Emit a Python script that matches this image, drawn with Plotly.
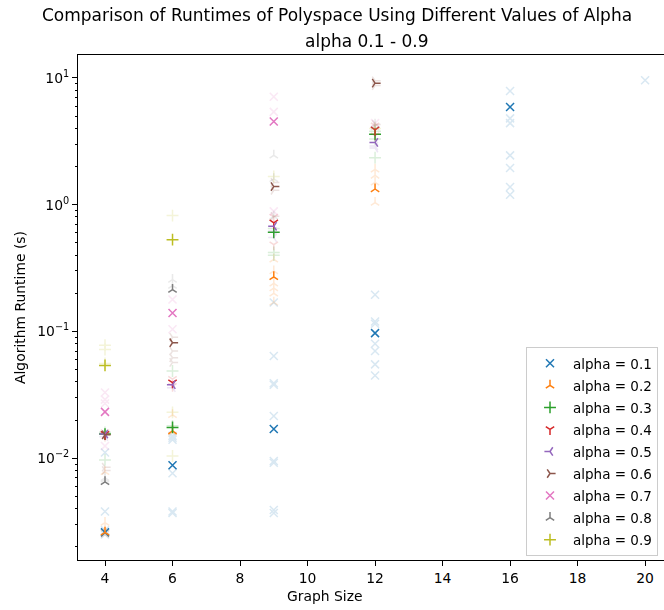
import plotly.graph_objects as go

# ---------------- data ----------------
alphas = ["0.1", "0.2", "0.3", "0.4", "0.5", "0.6", "0.7", "0.8", "0.9"]
colors = ["#1f77b4", "#ff7f0e", "#2ca02c", "#d62728", "#9467bd",
          "#8c564b", "#e377c2", "#7f7f7f", "#bcbd22"]
symbols = ["x-thin", "y-up", "cross-thin", "y-down", "y-left",
           "y-right", "x-thin", "y-up", "cross-thin"]

# solid (summary) points: graph sizes and runtimes
a01_mean_x = [4, 6, 9, 12, 16]
a01_mean_y = [0.0026, 0.0088, 0.017, 0.097, 5.9]
a02_mean_x = [4, 6, 9, 12]
a02_mean_y = [0.0026, 0.0164, 0.27, 1.33]
a03_mean_x = [4, 6, 9, 12]
a03_mean_y = [0.0155, 0.0175, 0.605, 3.6]
a04_mean_x = [4, 6, 9, 12]
a04_mean_y = [0.0155, 0.0395, 0.72, 3.9]
a05_mean_x = [4, 6, 9, 12]
a05_mean_y = [0.0155, 0.038, 0.675, 3.1]
a06_mean_x = [4, 6, 9, 12]
a06_mean_y = [0.0153, 0.0815, 1.39, 9.1]
a07_mean_x = [4, 6, 9]
a07_mean_y = [0.0232, 0.140, 4.53]
a08_mean_x = [4, 6]
a08_mean_y = [0.0065, 0.214]
a09_mean_x = [4, 6]
a09_mean_y = [0.054, 0.53]

# faint (individual run) points
a01_run_x = [4, 4, 4, 4, 4, 6, 6, 6, 6, 6, 6, 9, 9, 9, 9, 9, 9, 9, 9, 9,
             12, 12, 12, 12, 12, 12, 12, 16, 16, 16, 16, 16, 16, 16, 20]
a01_run_y = [0.0026, 0.0025, 0.0027, 0.0038, 0.0111,
             0.0145, 0.015, 0.014, 0.0076, 0.0037, 0.0038,
             0.169, 0.064, 0.039, 0.038, 0.0215, 0.0095, 0.0092, 0.0037, 0.0039,
             0.195, 0.12, 0.115, 0.08, 0.07, 0.055, 0.045,
             7.9, 4.8, 4.4, 2.45, 1.95, 1.38, 1.2, 9.6]
a02_run_x = [4, 4, 4, 4, 6, 6, 9, 9, 9, 9, 9, 9, 12, 12, 12, 12]
a02_run_y = [0.0031, 0.0025, 0.0028, 0.0078, 0.016, 0.022,
             0.37, 0.30, 0.24, 0.22, 0.20, 0.17, 1.9, 1.7, 1.5, 1.04]
a03_run_x = [4, 4, 6, 6, 9, 9, 9, 12, 12, 12]
a03_run_y = [0.0097, 0.016, 0.0487, 0.018, 0.42, 0.40, 0.65, 2.35, 3.3, 3.8]
a04_run_x = [4, 4, 6, 6, 9, 9, 12, 12]
a04_run_y = [0.015, 0.016, 0.037, 0.042, 0.484, 0.80, 4.2, 3.5]
a05_run_x = [4, 6, 9, 9, 12, 12]
a05_run_y = [0.0148, 0.036, 0.55, 0.62, 2.8, 2.9]
a06_run_x = [4, 4, 6, 6, 6, 6, 9, 9, 9, 12, 12, 12]
a06_run_y = [0.008, 0.0085, 0.09, 0.07, 0.062, 0.057, 1.3, 1.5, 0.81, 8.7, 9.5, 4.3]
a07_run_x = [4, 4, 4, 4, 6, 6, 9, 9, 9, 12]
a07_run_y = [0.033, 0.029, 0.027, 0.0125, 0.179, 0.104, 7.1, 5.4, 0.886, 4.4]
a08_run_x = [4, 4, 6, 6, 9, 9, 9, 12, 12]
a08_run_y = [0.0068, 0.007, 0.257, 0.23, 2.45, 1.6, 0.81, 4.3, 4.1]
a09_run_x = [4, 4, 4, 6, 6, 6, 9, 12]
a09_run_y = [0.078, 0.072, 0.056, 0.82, 0.023, 0.0104, 1.67, 4.0]

mean_x = [a01_mean_x, a02_mean_x, a03_mean_x, a04_mean_x, a05_mean_x,
          a06_mean_x, a07_mean_x, a08_mean_x, a09_mean_x]
mean_y = [a01_mean_y, a02_mean_y, a03_mean_y, a04_mean_y, a05_mean_y,
          a06_mean_y, a07_mean_y, a08_mean_y, a09_mean_y]
run_x = [a01_run_x, a02_run_x, a03_run_x, a04_run_x, a05_run_x,
         a06_run_x, a07_run_x, a08_run_x, a09_run_x]
run_y = [a01_run_y, a02_run_y, a03_run_y, a04_run_y, a05_run_y,
         a06_run_y, a07_run_y, a08_run_y, a09_run_y]

x_ticks = [4, 6, 8, 10, 12, 14, 16, 18, 20]
y_ticks = [0.01, 0.1, 1, 10]
y_tick_text = ["10<sup>\u22122</sup>", "10<sup>\u22121</sup>", "10<sup>0</sup>", "10<sup>1</sup>"]

# ---------------- figure ----------------
W, H = 664, 610
L, T, B, R = 78, 55, 50, 0
FONT = "DejaVu Sans"
FS = 13.9
TFS = 17

def size_for(sym):
    if sym.startswith("y-"):
        return 7
    if sym == "cross-thin":
        return 8.5
    return 8

fig = go.Figure()
for i, a in enumerate(alphas):
    fig.add_trace(go.Scatter(
        x=run_x[i], y=run_y[i], mode="markers", showlegend=False,
        legendgroup=a, opacity=0.17, hoverinfo="skip",
        marker=dict(symbol=symbols[i], size=size_for(symbols[i]),
                    color=colors[i], line=dict(color=colors[i], width=1.5))))
    fig.add_trace(go.Scatter(
        x=mean_x[i], y=mean_y[i], mode="markers", name=f"alpha = {a}",
        legendgroup=a,
        marker=dict(symbol=symbols[i], size=size_for(symbols[i]),
                    color=colors[i], line=dict(color=colors[i], width=1.5))))

# minor ticks on log axis (axis decoration)
minor_vals = [m * 10.0 ** e for e in range(-3, 2) for m in range(2, 10)]

def px_to_paper_x(px):
    return (px - L) / (W - L - R)

def px_to_paper_y(py):
    return (H - B - py) / (H - T - B)

fig.update_layout(
    width=W, height=H,
    margin=dict(l=L, r=R, t=T, b=B, pad=0),
    paper_bgcolor="white", plot_bgcolor="white",
    font=dict(family=FONT, size=FS, color="black"),
    showlegend=True,
    legend=dict(
        x=px_to_paper_x(526), y=px_to_paper_y(347), xanchor="left", yanchor="top",
        bgcolor="rgba(255,255,255,0.8)", bordercolor="#cccccc", borderwidth=1,
        font=dict(family=FONT, size=13.5, color="black"), tracegroupgap=1.5,
        itemwidth=36,
    ),
    xaxis=dict(
        range=[3.2, 20.56], tickvals=x_ticks, ticks="outside", ticklen=5,
        tickwidth=1, tickcolor="black", showline=True, linecolor="black",
        linewidth=1, mirror=True, showgrid=False, zeroline=False,
        tickfont=dict(family=FONT, size=FS, color="black"),
    ),
    yaxis=dict(
        type="log", range=[-2.803, 1.181], tickvals=y_ticks, ticktext=y_tick_text,
        ticks="outside", ticklen=5, tickwidth=1, tickcolor="black",
        showline=True, linecolor="black", linewidth=1, showgrid=False,
        zeroline=False, tickfont=dict(family=FONT, size=FS, color="black"),
        minor=dict(tickvals=minor_vals, ticks="outside", ticklen=2.5,
                   tickwidth=0.8, tickcolor="black", showgrid=False),
    ),
    annotations=[
        dict(text="Comparison of Runtimes of Polyspace Using Different Values of Alpha",
             xref="paper", yref="paper", x=px_to_paper_x(337), y=px_to_paper_y(15),
             xanchor="center", yanchor="middle", showarrow=False,
             font=dict(family=FONT, size=TFS, color="black")),
        dict(text="alpha 0.1 - 0.9",
             xref="paper", yref="paper", x=px_to_paper_x(367), y=px_to_paper_y(41),
             xanchor="center", yanchor="middle", showarrow=False,
             font=dict(family=FONT, size=TFS, color="black")),
        dict(text="Graph Size",
             xref="paper", yref="paper", x=px_to_paper_x(325), y=px_to_paper_y(596),
             xanchor="center", yanchor="middle", showarrow=False,
             font=dict(family=FONT, size=FS, color="black")),
        dict(text="Algorithm Runtime (s)", textangle=-90,
             xref="paper", yref="paper", x=px_to_paper_x(20), y=px_to_paper_y(308),
             xanchor="center", yanchor="middle", showarrow=False,
             font=dict(family=FONT, size=FS, color="black")),
    ],
)

fig.write_html("out.html")
